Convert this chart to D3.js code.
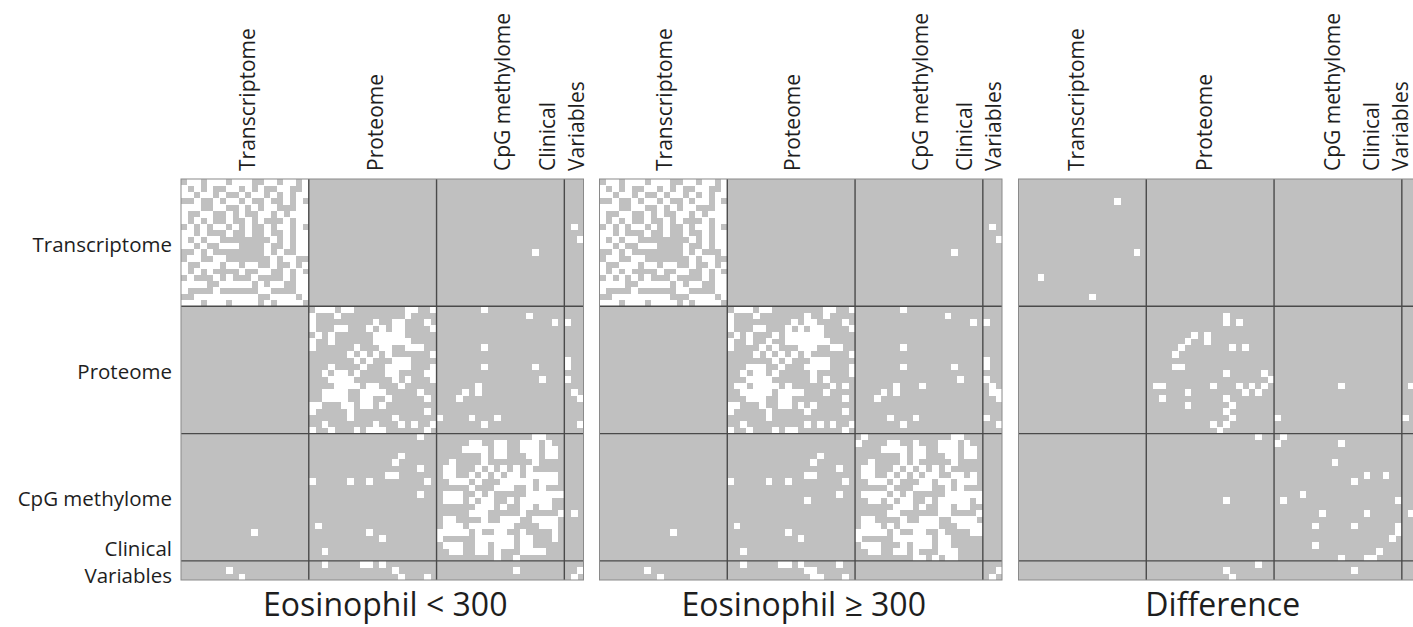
<!DOCTYPE html>
<html>
<head>
<meta charset="utf-8">
<script src="https://cdn.jsdelivr.net/npm/d3@7"></script>
<style>
  body { margin: 0; background: #fff; }
  svg { display: block; }
  text { font-family: "Open Sans", "Noto Sans", sans-serif; fill: #1e1e1e; }
</style>
</head>
<body>
<svg id="chart" width="1413" height="627"></svg>
<script>
// omics groups along both axes of every matrix
const groups = ["Transcriptome", "Proteome", "CpG methylome", "Clinical Variables"]
const groupSizes = [20, 20, 20, 3]
const panelTitles = ["Eosinophil < 300", "Eosinophil \u2265 300", "Difference"]

// edges of the Eosinophil < 300 network, node i -> neighbours with a larger index
const lowNeighbors = [
  [1,2,4,5,6,8,9,10,13,14,16,17,19],
  [2,4,7,8,10,12,15,16,19],
  [3,4,6,9,11,12,14,16,18,19],
  [5,7,8,10,13,16,18],
  [5,6,9,11,13,14,18,19],
  [7,9,12,13,15,17,18,19],
  [7,10,12,16,18,19],
  [8,10,13,15,16,18,61],
  [10,13,16,18,19],
  [14,16,18,19,62],
  [13,16,18,19],
  [13,15,18,19,55],
  [14,16,17],
  [14,17,19],
  [16,18],
  [16,18,19],
  [18,19],
  [18,19],
  [19],
  [],
  [21,22,23,25,26,35,36,39,47],
  [24,35,54],
  [30,33,34,38,58,60],
  [24,25,29,31,33,34,39],
  [30,31,32,33,34],
  [30,31,32,33,34,35],
  [27,31,32,35,36,37,47],
  [28,30,32,39],
  [29,33,34,35,60],
  [32,33,34,35,39,47,55,60],
  [32,33,38,39],
  [33,35,39,56,60],
  [34,46],
  [37,44,46,61],
  [38,43,62],
  [],
  [38],
  [40,45,49],
  [39,47,62],
  [],
  [55,56],
  [45,46,49,50,53,54,55,57],
  [44,45,46,47,49,50,53,54,55,57,58],
  [47,49,50,54,55,57,58],
  [47,55],
  [46,48,50,52,54],
  [47,49,51,52,54,55,56,57,58],
  [50,51,52,53,54,56,57,58],
  [49,50,51,54,56],
  [54,55,56,57,58,59],
  [51,53,54,55,56,57],
  [53,54,56,57],
  [53,59,61],
  [55,56,57,58],
  [56,57,58],
  [58],
  [58],
  [],
  [],
  [],
  [],
  [62],
  []
]

// edges that differ between the two networks (Difference panel)
const diffPairs = [
  [3,15],[11,18],
  [21,32],[22,32],[22,34],[24,27],[24,29],[25,29],[25,26],[26,33],[26,35],
  [30,32],[30,38],[31,39],[32,34],[32,36],[32,38],[33,35],[33,37],
  [32,50],[37,40],[32,61],[37,60],[33,62],
  [40,41],[41,50],[44,49],[46,54],[46,57],[47,52],[50,59],[52,54],
  [54,59],[55,59],[56,58],[52,61]
]

let svg = d3.select("#chart")
let W = +svg.attr("width")
let n = d3.sum(groupSizes)
let starts = [0].concat(Array.from(d3.cumsum(groupSizes))) // 0,20,40,60,63

// build the three matrices
let makeMatrix = () => d3.range(n).map(() => d3.range(n).map(() => false))
let low = makeMatrix()
lowNeighbors.forEach((nb, i) => nb.forEach(j => { low[i][j] = true; low[j][i] = true }))
let diff = makeMatrix()
diffPairs.forEach(([i, j]) => { diff[i][j] = true; diff[j][i] = true })
let high = low.map((row, i) => row.map((v, j) => v !== diff[i][j]))
let matrices = [low, high, diff]

let panelW = 402.5
let topY = 179, bottomY = 580
let panelX = d3.scaleOrdinal().domain([0, 1, 2]).range([181, 599.5, 1018.5])
let labelShift = [2, 1, -6]

let x = d3.scaleBand().domain(d3.range(n)).range([0, panelW])
let y = d3.scaleBand().domain(d3.range(n)).range([topY, bottomY])

matrices.forEach((m, p) => {
  let g = svg.append("g").attr("transform", "translate(" + panelX(p) + ",0)")

  g.append("rect")
    .attr("x", 0).attr("y", topY)
    .attr("width", panelW).attr("height", bottomY - topY)
    .attr("fill", "#c0c0c0")

  let cells = []
  m.forEach((row, i) => row.forEach((v, j) => { if (v) cells.push({ i: i, j: j }) }))

  g.selectAll("rect.cell")
    .data(cells)
    .enter()
    .append("rect")
      .attr("class", "cell")
      .attr("x", d => x(d.j))
      .attr("y", d => y(d.i))
      .attr("width", x.bandwidth() + 0.4)
      .attr("height", y.bandwidth() + 0.4)
      .attr("fill", "#ffffff")
      .attr("shape-rendering", "crispEdges")

  // block separators
  let inner = starts.slice(1, -1)
  g.selectAll("line.v")
    .data(inner)
    .enter()
    .append("line")
      .attr("x1", d => x(d)).attr("x2", d => x(d))
      .attr("y1", topY).attr("y2", bottomY)
      .attr("stroke", "#4a4a4a").attr("stroke-width", 1.4)
  g.selectAll("line.h")
    .data(inner)
    .enter()
    .append("line")
      .attr("x1", 0).attr("x2", panelW)
      .attr("y1", d => y(d)).attr("y2", d => y(d))
      .attr("stroke", "#4a4a4a").attr("stroke-width", 1.4)

  g.append("rect")
    .attr("x", 0).attr("y", topY)
    .attr("width", panelW).attr("height", bottomY - topY)
    .attr("fill", "none").attr("stroke", "#8a8a8a").attr("stroke-width", 1)

  // column headers, rotated; the last one is kept inside the page
  groups.forEach((name, k) => {
    let cx = (x(starts[k]) + x(starts[k + 1] - 1) + x.bandwidth()) / 2 + labelShift[p]
    cx = Math.min(cx, W - panelX(p) - 13)
    let lines = k == 3 ? ["Clinical", "Variables"] : [name]
    lines.forEach((t, li) => {
      g.append("text")
        .text(t)
        .attr("transform", "translate(" + (cx - (lines.length - 1 - li) * 29) + ",171) rotate(-90)")
        .attr("text-anchor", "start")
        .attr("dominant-baseline", "central")
        .attr("font-size", "21px")
    })
  })

  g.append("text")
    .text(panelTitles[p])
    .attr("x", panelW / 2 + 3)
    .attr("y", 616)
    .attr("text-anchor", "middle")
    .attr("font-size", "32px")
})

// row labels on the left
groups.forEach((name, k) => {
  let cy = (y(starts[k]) + y(starts[k + 1] - 1) + y.bandwidth()) / 2
  let lines = k == 3 ? ["Clinical", "Variables"] : [name]
  lines.forEach((t, li) => {
    svg.append("text")
      .text(t)
      .attr("x", 172)
      .attr("y", k == 3 ? cy + 5 - (lines.length - 1 - li) * 27 : cy + 1)
      .attr("text-anchor", "end")
      .attr("dominant-baseline", "central")
      .attr("font-size", "20.5px")
  })
})
</script>
</body>
</html>
